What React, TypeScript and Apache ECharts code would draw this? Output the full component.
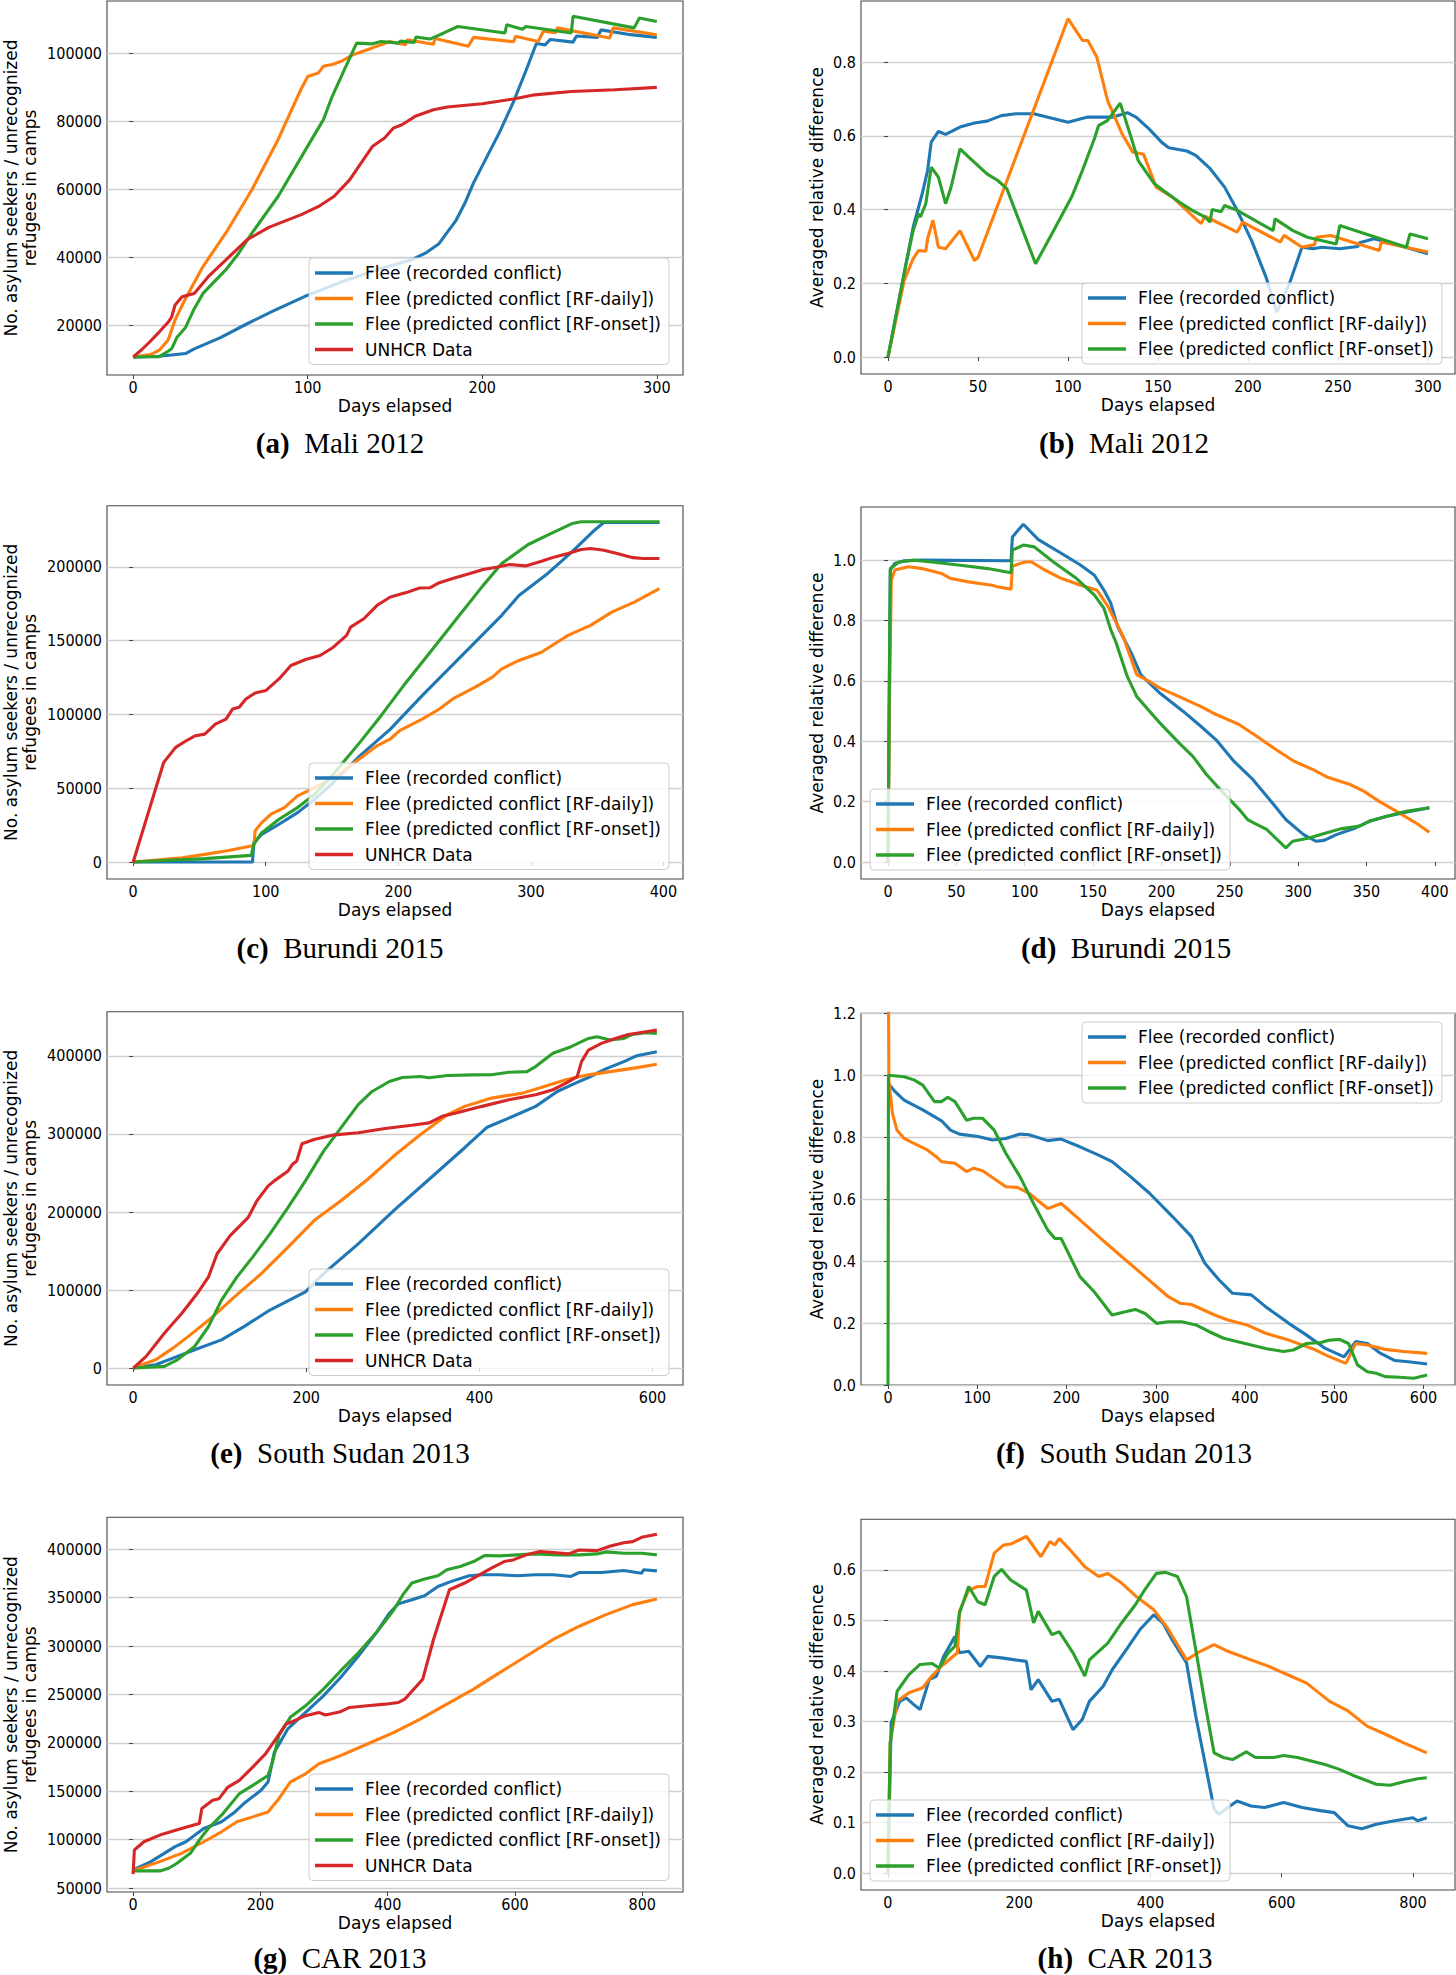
import React, { useEffect, useRef } from "react";
import * as echarts from "echarts";

// ---------------- Series names & tick labels ----------------
const NAME_REC = "Flee (recorded conflict)";
const NAME_DAILY = "Flee (predicted conflict [RF-daily])";
const NAME_ONSET = "Flee (predicted conflict [RF-onset])";
const NAME_UNHCR = "UNHCR Data";

const captionLetters = ["(a)", "(b)", "(c)", "(d)", "(e)", "(f)", "(g)", "(h)"];
const captionTitles = ["Mali 2012", "Mali 2012", "Burundi 2015", "Burundi 2015", "South Sudan 2013", "South Sudan 2013", "CAR 2013", "CAR 2013"];

const maliCountXTicks = [0, 100, 200, 300];
const maliArdXTicks = [0, 50, 100, 150, 200, 250, 300];
const maliCountYTicks = [20000, 40000, 60000, 80000, 100000];
const maliArdYTicks = [0, 0.2, 0.4, 0.6, 0.8];
const burCountXTicks = [0, 100, 200, 300, 400];
const burArdXTicks = [0, 50, 100, 150, 200, 250, 300, 350, 400];
const burCountYTicks = [0, 50000, 100000, 150000, 200000];
const burArdYTicks = [0, 0.2, 0.4, 0.6, 0.8, 1.0];
const ssCountXTicks = [0, 200, 400, 600];
const ssArdXTicks = [0, 100, 200, 300, 400, 500, 600];
const ssCountYTicks = [0, 100000, 200000, 300000, 400000];
const ssArdYTicks = [0, 0.2, 0.4, 0.6, 0.8, 1.0, 1.2];
const carXTicks = [0, 200, 400, 600, 800];
const carCountYTicks = [50000, 100000, 150000, 200000, 250000, 300000, 350000, 400000];
const carArdYTicks = [0, 0.1, 0.2, 0.3, 0.4, 0.5, 0.6];

// ---------------- (a) Mali 2012 counts ----------------
const maliRecorded = [[0,10800],[15,11000],[30,11800],[35,13200],[50,16500],[65,20500],[80,24300],[100,29000],[120,33000],[140,36500],[160,39500],[168,41500],[175,44000],[180,47500],[185,51000],[190,56000],[195,62000],[200,67000],[210,77000],[218,86000],[225,95000],[231,103000],[236,102600],[239,104200],[252,103400],[254,105200],[266,104800],[268,107000],[285,105600],[300,104800]];
const maliDaily = [[0,10800],[10,11500],[15,12800],[20,15800],[24,21700],[30,28000],[40,37400],[53,47200],[68,60000],[83,74700],[96,89400],[100,93300],[106,94300],[109,96300],[114,96800],[119,97700],[126,99700],[137,101700],[147,103600],[156,102650],[157,104100],[172,102800],[173,104500],[192,102200],[195,104800],[218,103500],[219,105100],[232,103600],[235,106600],[242,106200],[243,107600],[273,104600],[275,107600],[300,105600]];
const maliOnset = [[0,10800],[15,10900],[20,12500],[22,13200],[25,16500],[30,19500],[35,25000],[40,29500],[53,36400],[60,41000],[68,47200],[83,58000],[101,73700],[109,80600],[114,87400],[121,95300],[128,103100],[137,102900],[142,103600],[152,103100],[153,103700],[161,103300],[162,104900],[170,104300],[178,106100],[186,108000],[213,106100],[214,108500],[223,107200],[225,108000],[251,106100],[252,111000],[287,107600],[290,110500],[300,109500]];
const maliUnhcr = [[0,10800],[5,13000],[10,15500],[15,18200],[20,21000],[22,22500],[24,26100],[28,28500],[35,29500],[43,34400],[53,39300],[65,45200],[78,49000],[96,52600],[106,55000],[115,58000],[124,62900],[137,72700],[144,75200],[149,78100],[154,79100],[162,81700],[172,83500],[180,84300],[200,85300],[218,86700],[230,87900],[251,88900],[276,89400],[300,90100]];

// ---------------- (b) Mali 2012 averaged relative difference ----------------
const maliArdRecorded = [[0,0],[14,0.353],[19,0.443],[22,0.506],[24,0.583],[28,0.612],[32,0.604],[40,0.624],[48,0.635],[55,0.64],[63,0.655],[71,0.66],[81,0.66],[100,0.637],[111,0.651],[125,0.651],[133,0.663],[138,0.65],[145,0.619],[152,0.583],[156,0.568],[166,0.559],[171,0.547],[179,0.511],[187,0.461],[194,0.398],[202,0.316],[210,0.217],[216,0.122],[223,0.199],[230,0.298],[236,0.294],[241,0.298],[251,0.294],[261,0.3],[262,0.31],[270,0.321],[279,0.31],[300,0.28]];
const maliArdDaily = [[0,0],[9,0.208],[14,0.267],[17,0.289],[21,0.287],[22,0.321],[25,0.371],[28,0.298],[32,0.294],[40,0.343],[48,0.262],[50,0.27],[100,0.918],[108,0.859],[111,0.859],[116,0.814],[122,0.696],[130,0.606],[136,0.556],[142,0.55],[149,0.461],[158,0.434],[164,0.407],[171,0.375],[174,0.362],[176,0.382],[194,0.339],[197,0.366],[218,0.312],[220,0.33],[230,0.298],[237,0.305],[238,0.325],[246,0.33],[273,0.289],[274,0.312],[300,0.285]];
const maliArdOnset = [[0,0],[10,0.253],[14,0.343],[17,0.389],[18,0.38],[21,0.416],[24,0.515],[28,0.488],[32,0.416],[35,0.46],[40,0.565],[45,0.542],[55,0.497],[61,0.479],[66,0.457],[82,0.253],[91,0.334],[102,0.434],[108,0.506],[115,0.597],[117,0.628],[122,0.642],[129,0.689],[135,0.597],[139,0.533],[148,0.47],[153,0.452],[158,0.434],[162,0.42],[169,0.398],[176,0.38],[179,0.366],[180,0.4],[185,0.394],[187,0.411],[194,0.398],[214,0.343],[215,0.375],[225,0.343],[233,0.325],[249,0.307],[251,0.357],[288,0.298],[290,0.334],[300,0.321]];

// ---------------- (c) Burundi 2015 counts ----------------
const burRecorded = [[0,0],[90,0],[91,13100],[97,18800],[110,25600],[124,33500],[137,42600],[151,53900],[171,72000],[194,90100],[218,112800],[238,130900],[258,149000],[278,167200],[291,180700],[311,194300],[331,210200],[348,224900],[355,230100],[397,230100]];
const burDaily = [[0,0],[37,2900],[54,5200],[70,7500],[89,10900],[91,11000],[92,21100],[97,26700],[104,32400],[114,36900],[124,44800],[137,50500],[154,58400],[167,67500],[184,78800],[194,83400],[201,89000],[218,96900],[231,103700],[241,110500],[258,118500],[271,125300],[278,130900],[291,136600],[308,142200],[318,147900],[328,153600],[345,160400],[361,169400],[378,176200],[397,185300]];
const burOnset = [[0,0],[54,2300],[89,4500],[91,12000],[97,19900],[110,29000],[124,36900],[137,46000],[151,59600],[171,81100],[187,99200],[204,119600],[224,142200],[244,164900],[264,187500],[278,202300],[298,215200],[315,222600],[331,229400],[338,230600],[397,230600]];
const burUnhcr = [[0,0],[23,67500],[32,77700],[40,82200],[47,85600],[54,86700],[62,93500],[70,96900],[75,103700],[80,104900],[85,110500],[92,114600],[100,116200],[110,124100],[119,133200],[130,137300],[141,140000],[151,145600],[161,153600],[164,159200],[174,164900],[184,174000],[194,179600],[206,182600],[216,185700],[224,185900],[231,189300],[241,192100],[254,195500],[264,198200],[274,199800],[284,201600],[296,200700],[308,203900],[318,206800],[328,209100],[338,211800],[345,212500],[355,211300],[365,209100],[377,206300],[385,205700],[397,205700]];

// ---------------- (d) Burundi 2015 averaged relative difference ----------------
const burArdRecorded = [[0,0],[1,0.6],[1.7,0.967],[5,0.989],[12,0.998],[25,1.0],[90,0.998],[91,1.077],[99,1.119],[110,1.068],[127,1.022],[141,0.983],[151,0.95],[158,0.9],[163,0.857],[168,0.78],[178,0.692],[185,0.62],[199,0.559],[216,0.499],[229,0.449],[240,0.405],[253,0.334],[267,0.273],[280,0.202],[291,0.141],[304,0.091],[313,0.069],[319,0.072],[328,0.091],[342,0.113],[352,0.135],[365,0.152],[379,0.165],[396,0.18]];
const burArdDaily = [[0,0],[1,0.5],[2.4,0.934],[5,0.967],[15,0.978],[25,0.972],[39,0.956],[46,0.939],[59,0.928],[76,0.917],[80,0.912],[90,0.904],[91,0.98],[100,0.994],[105,0.994],[114,0.969],[127,0.939],[141,0.917],[153,0.9],[161,0.846],[172,0.747],[182,0.62],[189,0.604],[199,0.576],[213,0.548],[229,0.515],[238,0.493],[257,0.455],[270,0.416],[284,0.372],[297,0.334],[311,0.306],[321,0.282],[338,0.257],[348,0.235],[359,0.202],[372,0.168],[386,0.13],[396,0.099]];
const burArdOnset = [[0,0],[1,0.6],[1.7,0.972],[8,0.994],[19,1.0],[32,0.994],[53,0.983],[73,0.972],[90,0.958],[91,1.033],[99,1.05],[107,1.044],[121,0.994],[138,0.939],[151,0.884],[158,0.84],[163,0.769],[167,0.725],[175,0.615],[182,0.548],[199,0.46],[213,0.394],[223,0.35],[233,0.29],[243,0.24],[257,0.174],[263,0.141],[270,0.124],[277,0.108],[291,0.047],[296,0.069],[308,0.08],[321,0.097],[331,0.11],[345,0.119],[352,0.135],[365,0.152],[379,0.168],[396,0.18]];

// ---------------- (e) South Sudan 2013 counts ----------------
const ssRecorded = [[0,0],[26,4200],[46,12700],[71,23400],[102,36100],[128,53100],[158,74300],[199,97700],[220,121000],[260,159200],[301,201700],[342,242000],[383,282400],[409,308700],[439,322700],[465,335400],[490,354500],[511,365200],[526,372400],[546,383400],[567,392800],[582,400400],[605,405500]];
const ssDaily = [[0,0],[26,10600],[46,25500],[66,42500],[92,65800],[117,91300],[148,121000],[179,155000],[209,189000],[240,214400],[271,242000],[301,271700],[332,299300],[363,324800],[383,335400],[414,346000],[450,352400],[475,360900],[500,369400],[526,375800],[557,380900],[582,385100],[605,389400]];
const ssOnset = [[0,0],[36,2100],[51,10600],[71,27600],[87,53100],[102,87000],[120,116800],[138,142200],[158,172000],[179,205900],[199,239900],[220,278100],[240,307800],[260,337600],[276,354500],[296,367300],[311,372400],[332,373600],[342,372000],[363,374900],[393,375800],[414,376000],[434,379200],[455,380000],[465,386400],[485,403400],[506,411900],[526,422500],[536,424600],[551,420400],[567,422500],[577,427600],[592,429700],[605,428800]];
const ssUnhcr = [[0,0],[15,14900],[36,44600],[56,70000],[74,95500],[87,116800],[97,146500],[112,169800],[133,193200],[143,214400],[156,233500],[163,239900],[179,252600],[184,261100],[189,265400],[195,287500],[209,293000],[230,298500],[260,301500],[291,307000],[322,311200],[342,314200],[357,322700],[373,327000],[403,335400],[434,343900],[465,350300],[485,356700],[500,365200],[513,373600],[518,392800],[526,407600],[541,416100],[557,422500],[572,427600],[587,430100],[605,433100]];

// ---------------- (f) South Sudan 2013 averaged relative difference ----------------
const ssArdRecorded = [[0,0.974],[8,0.947],[18,0.92],[39,0.888],[60,0.853],[70,0.823],[80,0.81],[101,0.802],[117,0.791],[132,0.796],[148,0.81],[158,0.808],[179,0.789],[194,0.794],[215,0.769],[236,0.742],[251,0.721],[272,0.672],[293,0.619],[319,0.543],[340,0.479],[355,0.393],[371,0.339],[386,0.296],[407,0.291],[423,0.253],[449,0.199],[469,0.161],[490,0.118],[511,0.091],[524,0.14],[537,0.134],[552,0.102],[568,0.079],[583,0.075],[604,0.068]];
const ssArdDaily = [[0,1.6],[1,0.98],[5,0.877],[10,0.823],[18,0.796],[29,0.78],[44,0.759],[54,0.737],[60,0.721],[75,0.716],[88,0.689],[96,0.7],[106,0.692],[132,0.64],[145,0.638],[158,0.619],[179,0.57],[194,0.586],[215,0.533],[236,0.479],[262,0.414],[288,0.35],[314,0.285],[327,0.264],[340,0.26],[366,0.226],[381,0.21],[402,0.194],[423,0.167],[449,0.145],[475,0.118],[495,0.091],[513,0.07],[524,0.134],[537,0.129],[557,0.115],[578,0.108],[604,0.102]];
const ssArdOnset = [[0,0],[0.5,1.0],[18,0.995],[29,0.985],[39,0.968],[52,0.915],[60,0.915],[67,0.929],[75,0.915],[88,0.855],[96,0.861],[106,0.861],[119,0.823],[132,0.748],[148,0.672],[163,0.586],[179,0.5],[187,0.473],[194,0.473],[215,0.35],[231,0.301],[251,0.226],[267,0.237],[277,0.244],[288,0.231],[301,0.199],[314,0.204],[329,0.204],[345,0.194],[360,0.172],[376,0.151],[392,0.14],[407,0.129],[423,0.118],[443,0.108],[454,0.113],[469,0.134],[485,0.137],[495,0.145],[506,0.147],[516,0.134],[526,0.065],[537,0.043],[547,0.038],[557,0.027],[573,0.025],[589,0.022],[604,0.032]];

// ---------------- (g) CAR 2013 counts ----------------
const carRecorded = [[0,68800],[28,77400],[49,85900],[66,92800],[83,97900],[111,111600],[139,118500],[160,128700],[177,139000],[201,151000],[212,159600],[222,190400],[243,214400],[271,231500],[299,248600],[326,267500],[354,289700],[382,313700],[403,334200],[417,343800],[438,347900],[458,352000],[479,361600],[500,366800],[528,372600],[549,373600],[576,373600],[604,372600],[632,373600],[660,373600],[688,371900],[701,376000],[736,376000],[771,378100],[799,375300],[802,378800],[823,377700]];
const carDaily = [[0,68000],[42,77400],[76,85900],[111,97900],[139,108200],[163,118500],[188,123600],[212,128700],[229,142400],[247,159600],[271,168100],[292,178400],[326,186900],[368,198900],[410,210900],[451,224600],[493,240000],[535,255500],[576,272600],[618,289700],[660,306800],[701,320500],[743,332500],[785,342800],[823,348600]];
const carOnset = [[0,67800],[42,67800],[56,70500],[69,75700],[90,85900],[104,99600],[118,111600],[139,125300],[167,147600],[188,156100],[212,166400],[219,180100],[229,207500],[247,226400],[271,238300],[299,255500],[326,274300],[354,293100],[382,313700],[410,337700],[424,353100],[438,365100],[458,369200],[479,372600],[493,378800],[514,382200],[535,387300],[552,393500],[576,393200],[604,394200],[632,395200],[667,394200],[701,394200],[729,395200],[743,397300],[771,395900],[799,395900],[823,394200]];
const carUnhcr = [[0,64500],[2,89400],[17,97900],[42,104800],[76,111600],[104,116800],[108,132200],[125,140700],[135,142400],[149,154400],[167,161300],[188,175000],[208,188700],[226,205800],[240,219500],[250,221900],[271,228100],[292,231500],[302,228800],[326,232200],[340,236600],[368,238300],[396,240000],[417,241800],[427,245200],[455,265700],[472,306800],[497,358200],[521,365100],[549,375300],[563,380500],[583,387300],[597,389000],[618,394200],[639,397600],[660,396600],[684,395200],[701,399300],[729,398600],[750,403400],[771,406800],[785,407900],[799,412300],[823,415400]];

// ---------------- (h) CAR 2013 averaged relative difference ----------------
const carArdRecorded = [[0,0],[5,0.298],[18,0.34],[28,0.347],[39,0.334],[49,0.324],[63,0.383],[74,0.39],[85,0.429],[102,0.468],[109,0.436],[123,0.439],[141,0.409],[152,0.429],[173,0.426],[194,0.422],[211,0.419],[218,0.363],[229,0.383],[250,0.34],[261,0.344],[282,0.284],[296,0.304],[307,0.34],[328,0.37],[342,0.403],[363,0.442],[384,0.482],[405,0.511],[419,0.495],[433,0.462],[455,0.416],[469,0.311],[483,0.219],[497,0.127],[504,0.117],[518,0.13],[532,0.143],[553,0.133],[574,0.13],[603,0.14],[631,0.13],[659,0.124],[680,0.12],[701,0.094],[722,0.088],[744,0.097],[772,0.104],[800,0.11],[807,0.104],[821,0.11]];
const carArdDaily = [[0,0],[3.5,0.258],[14,0.34],[32,0.357],[53,0.367],[67,0.39],[81,0.409],[106,0.436],[109,0.518],[123,0.56],[137,0.567],[148,0.567],[162,0.633],[176,0.649],[187,0.651],[211,0.666],[233,0.626],[247,0.656],[254,0.649],[261,0.662],[278,0.639],[300,0.606],[321,0.587],[335,0.593],[356,0.574],[377,0.549],[405,0.521],[426,0.485],[455,0.422],[476,0.439],[497,0.452],[518,0.439],[553,0.422],[581,0.409],[603,0.396],[638,0.376],[673,0.34],[701,0.321],[730,0.291],[758,0.275],[786,0.258],[821,0.238]];
const carArdOnset = [[0,0],[3.5,0.258],[14,0.36],[32,0.393],[49,0.413],[67,0.415],[78,0.406],[92,0.436],[102,0.449],[109,0.514],[123,0.567],[137,0.537],[148,0.531],[162,0.587],[173,0.601],[187,0.58],[211,0.56],[222,0.495],[229,0.518],[250,0.472],[261,0.478],[282,0.436],[300,0.39],[307,0.422],[335,0.455],[356,0.495],[377,0.531],[391,0.56],[409,0.593],[423,0.595],[441,0.587],[455,0.547],[469,0.442],[483,0.337],[497,0.238],[511,0.229],[525,0.225],[546,0.24],[560,0.229],[588,0.229],[603,0.233],[624,0.229],[645,0.222],[666,0.215],[687,0.206],[708,0.194],[730,0.183],[744,0.176],[765,0.174],[786,0.181],[807,0.187],[821,0.189]];

// ---------------- styling / layout ----------------
const COLOR: Record<string, string> = {
  [NAME_REC]: "#1f77b4",
  [NAME_DAILY]: "#ff7f0e",
  [NAME_ONSET]: "#2ca02c",
  [NAME_UNHCR]: "#d62728",
};
const SANS = "'DejaVu Sans', 'Noto Sans', sans-serif";
const SANS_COND = "'DejaVu Sans Condensed', 'DejaVu Sans', sans-serif";
const SERIF = "'Liberation Serif', 'DejaVu Serif', serif";
const COUNT_LABEL = "No. asylum seekers / unrecognized\nrefugees in camps";
const ARD_LABEL = "Averaged relative difference";

const LEFT = { left: 103.6, width: 579.4 };
const RIGHT = { left: 861, width: 594 };

type Panel = {
  grid: { left: number; width: number; top: number; height: number };
  x: [number, number];
  xTicks: number[];
  y: [number, number];
  yTicks: number[];
  dec: number;
  yName: string;
  yNameGap: number;
  series: [string, number[][]][];
  legend: { left: number; top: number };
  cap: { x: number; y: number };
};

const panels: Panel[] = [
  { grid: { ...LEFT, top: 1, height: 374 }, x: [-15, 315], xTicks: maliCountXTicks, y: [5500, 115500], yTicks: maliCountYTicks, dec: 0, yName: COUNT_LABEL, yNameGap: 68,
    series: [[NAME_REC, maliRecorded], [NAME_DAILY, maliDaily], [NAME_ONSET, maliOnset], [NAME_UNHCR, maliUnhcr]], legend: { left: 309, top: 258 }, cap: { x: 340, y: 443 } },
  { grid: { ...RIGHT, top: 1, height: 373 }, x: [-15, 315], xTicks: maliArdXTicks, y: [-0.046, 0.966], yTicks: maliArdYTicks, dec: 1, yName: ARD_LABEL, yNameGap: 35,
    series: [[NAME_REC, maliArdRecorded], [NAME_DAILY, maliArdDaily], [NAME_ONSET, maliArdOnset]], legend: { left: 1082, top: 283 }, cap: { x: 1124, y: 443 } },
  { grid: { ...LEFT, top: 505.7, height: 373.3 }, x: [-19.75, 414.75], xTicks: burCountXTicks, y: [-11500, 241500], yTicks: burCountYTicks, dec: 0, yName: COUNT_LABEL, yNameGap: 68,
    series: [[NAME_REC, burRecorded], [NAME_DAILY, burDaily], [NAME_ONSET, burOnset], [NAME_UNHCR, burUnhcr]], legend: { left: 309, top: 763 }, cap: { x: 340, y: 948 } },
  { grid: { ...RIGHT, top: 507, height: 372 }, x: [-19.75, 414.75], xTicks: burArdXTicks, y: [-0.056, 1.176], yTicks: burArdYTicks, dec: 1, yName: ARD_LABEL, yNameGap: 35,
    series: [[NAME_REC, burArdRecorded], [NAME_DAILY, burArdDaily], [NAME_ONSET, burArdOnset]], legend: { left: 870, top: 789 }, cap: { x: 1126, y: 948 } },
  { grid: { ...LEFT, top: 1011.7, height: 373.3 }, x: [-30.25, 635.25], xTicks: ssCountXTicks, y: [-21750, 456750], yTicks: ssCountYTicks, dec: 0, yName: COUNT_LABEL, yNameGap: 68,
    series: [[NAME_REC, ssRecorded], [NAME_DAILY, ssDaily], [NAME_ONSET, ssOnset], [NAME_UNHCR, ssUnhcr]], legend: { left: 309, top: 1269 }, cap: { x: 340, y: 1453 } },
  { grid: { ...RIGHT, top: 1013.3, height: 371.7 }, x: [-30.25, 635.25], xTicks: ssArdXTicks, y: [0, 1.2], yTicks: ssArdYTicks, dec: 1, yName: ARD_LABEL, yNameGap: 35,
    series: [[NAME_REC, ssArdRecorded], [NAME_DAILY, ssArdDaily], [NAME_ONSET, ssArdOnset]], legend: { left: 1082, top: 1022 }, cap: { x: 1124, y: 1453 } },
  { grid: { ...LEFT, top: 1517.3, height: 374.7 }, x: [-41, 864], xTicks: carXTicks, y: [46000, 433000], yTicks: carCountYTicks, dec: 0, yName: COUNT_LABEL, yNameGap: 68,
    series: [[NAME_REC, carRecorded], [NAME_DAILY, carDaily], [NAME_ONSET, carOnset], [NAME_UNHCR, carUnhcr]], legend: { left: 309, top: 1774 }, cap: { x: 340, y: 1958 } },
  { grid: { ...RIGHT, top: 1519.3, height: 370.7 }, x: [-41, 864], xTicks: carXTicks, y: [-0.033, 0.7], yTicks: carArdYTicks, dec: 1, yName: ARD_LABEL, yNameGap: 35,
    series: [[NAME_REC, carArdRecorded], [NAME_DAILY, carArdDaily], [NAME_ONSET, carArdOnset]], legend: { left: 870, top: 1800 }, cap: { x: 1125, y: 1958 } },
];

function buildOption() {
  const grid: any[] = [];
  const xAxis: any[] = [];
  const yAxis: any[] = [];
  const series: any[] = [];
  const legend: any[] = [];
  const graphic: any[] = [];

  panels.forEach((p, i) => {
    grid.push({ ...p.grid, show: true, borderColor: "#444", borderWidth: 1.1, backgroundColor: "transparent" });
    xAxis.push({
      type: "value", gridIndex: i, min: p.x[0], max: p.x[1],
      name: "Days elapsed", nameLocation: "middle", nameGap: 21,
      nameTextStyle: { fontFamily: SANS, fontSize: 17, color: "#000", lineHeight: 20 },
      axisLine: { show: false },
      axisTick: { show: true, customValues: p.xTicks, length: 4, lineStyle: { color: "#444" } },
      axisLabel: { customValues: p.xTicks, margin: 4, fontFamily: SANS_COND, fontSize: 16, color: "#000", formatter: (v: number) => String(Math.round(v)) },
      splitLine: { show: false },
    });
    yAxis.push({
      type: "value", gridIndex: i, min: p.y[0], max: p.y[1],
      name: p.yName, nameLocation: "middle", nameRotate: 90, nameGap: p.yNameGap,
      nameTextStyle: { fontFamily: SANS, fontSize: 17, color: "#000", lineHeight: 19, align: "center" },
      axisLine: { show: false },
      axisTick: { show: true, customValues: p.yTicks, length: 4, lineStyle: { color: "#444" } },
      axisLabel: { customValues: p.yTicks, margin: 5, fontFamily: SANS_COND, fontSize: 16, color: "#000", formatter: (v: number) => (p.dec ? v.toFixed(p.dec) : String(Math.round(v))) },
      splitLine: { show: true, lineStyle: { color: "#cfcfcf", width: 1.4 } },
    });
    p.series.forEach(([name, data]) => {
      series.push({
        type: "line", name, xAxisIndex: i, yAxisIndex: i, data,
        showSymbol: false, symbol: "none", clip: true, silent: true,
        lineStyle: { color: COLOR[name], width: 3.1 }, itemStyle: { color: COLOR[name] },
      });
    });
    legend.push({
      left: p.legend.left, top: p.legend.top, orient: "vertical",
      data: p.series.map((s) => ({ name: s[0], icon: "rect" })), selectedMode: false,
      itemWidth: 38, itemHeight: 3.6, itemGap: 5.5,
      padding: [5, 8, 5, 6],
      backgroundColor: "rgba(255,255,255,0.8)", borderColor: "#cccccc", borderWidth: 1, borderRadius: 4,
      textStyle: { fontFamily: SANS, fontSize: 17, color: "#000", lineHeight: 20, padding: [0, 0, 0, 7] },
    });
    graphic.push({
      type: "text", x: p.cap.x, y: p.cap.y, silent: true,
      style: {
        text: `{b|${captionLetters[i]}}  ${captionTitles[i]}`,
        rich: { b: { fontFamily: SERIF, fontSize: 29, fontWeight: "bold", fill: "#000" } },
        fontFamily: SERIF, fontSize: 29, fill: "#000",
        align: "center", verticalAlign: "middle", textAlign: "center", textVerticalAlign: "middle",
      },
    });
  });

  return { animation: false, backgroundColor: "#fff", grid, xAxis, yAxis, series, legend, graphic };
}

export default function App() {
  const ref = useRef<HTMLDivElement>(null);
  useEffect(() => {
    document.body.style.margin = "0";
    const chart = echarts.init(ref.current!, null, { renderer: "svg" });
    chart.setOption(buildOption() as any);
    return () => chart.dispose();
  }, []);
  return <div ref={ref} style={{ width: 1456, height: 1975 }} />;
}
